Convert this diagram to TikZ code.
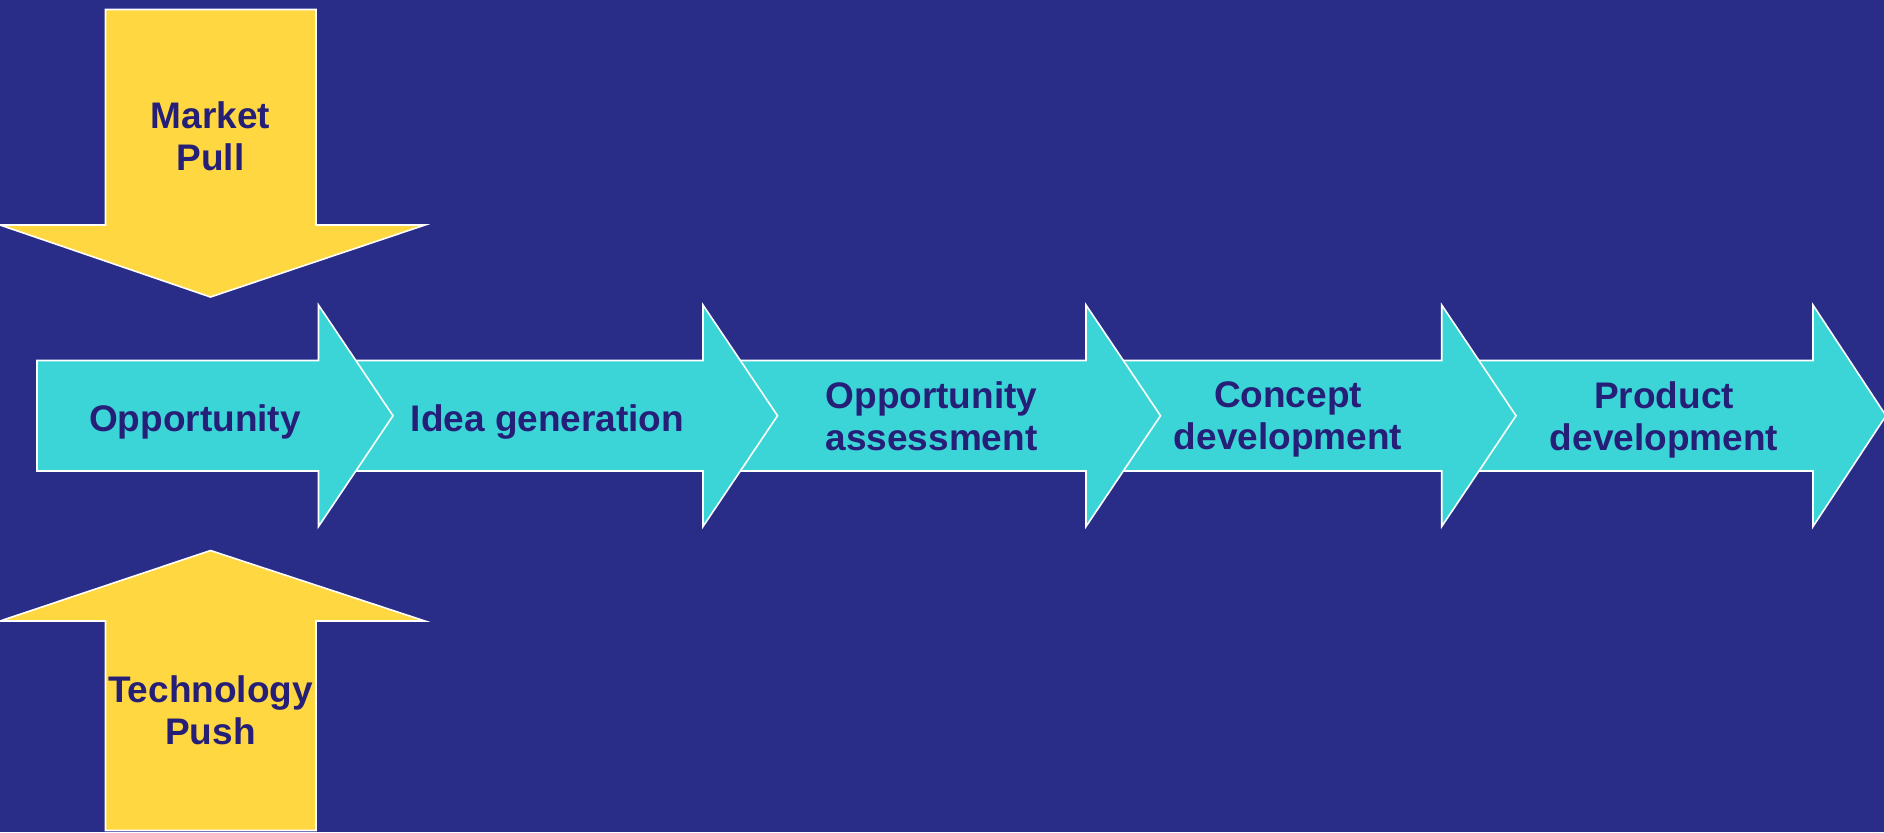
\documentclass[tikz,border=0pt]{standalone}
\usepackage{fontspec}
\setmainfont{Liberation Sans}
\definecolor{bg}{HTML}{292D87}
\definecolor{gold}{HTML}{FFD740}
\definecolor{aqua}{HTML}{3CD5D7}
\definecolor{ink}{HTML}{261F78}
\newcommand\chevshape[3]{%
  \draw[cyfill] (#1,360.5) -- (#2,360.5) -- (#2,305) -- (#3,415.7) -- (#2,526.5) -- (#2,471) -- (#1,471) -- cycle;}
\begin{document}
\begin{tikzpicture}[x=0.5pt,y=-0.5pt,
  outl/.style={draw=white,line width=0.8pt,line join=miter},
  yelfill/.style={outl,fill=gold},
  cyfill/.style={outl,fill=aqua},
  lbl/.style={text=ink,font=\bfseries\fontsize{18.5}{21}\selectfont,align=center,inner sep=0pt}]
\fill[bg] (0,0) rectangle (1884,832);
\useasboundingbox (0,0) rectangle (1884,832);
% market pull arrow
\draw[yelfill] (105.5,9.5) -- (316,9.5) -- (316,225) -- (425,225) -- (210.5,297) -- (0,225) -- (105.5,225) -- cycle;
% technology push arrow
\draw[yelfill] (105.5,830.5) -- (105.5,621) -- (0,621) -- (210.5,550.5) -- (425,621) -- (316,621) -- (316,830.5) -- cycle;
% process chevrons (right to left so each head lies over the next body)
\chevshape{1451.7}{1813}{1886}
\chevshape{1096}{1441.7}{1516}
\chevshape{713}{1086}{1160.5}
\chevshape{328.5}{703}{777.5}
\chevshape{37}{318.5}{393}
% labels
\node[lbl,anchor=north] (market) at (210.5,101.5) {Market\\Pull};
\node[lbl,anchor=north] (tech) at (210.5,675) {Technology\\Push};
\node[lbl,anchor=base] (opp) at (195,431.7) {Opportunity};
\node[lbl,anchor=base] (idea) at (547.5,431.7) {Idea generation};
\node[lbl,anchor=north] (assess) at (931.5,381.5) {Opportunity\\assessment};
\node[lbl,anchor=north] (concept) at (1288,381.5) {Concept\\development};
\node[lbl,anchor=north] (product) at (1664,381.5) {Product\\development};
\end{tikzpicture}
\end{document}
